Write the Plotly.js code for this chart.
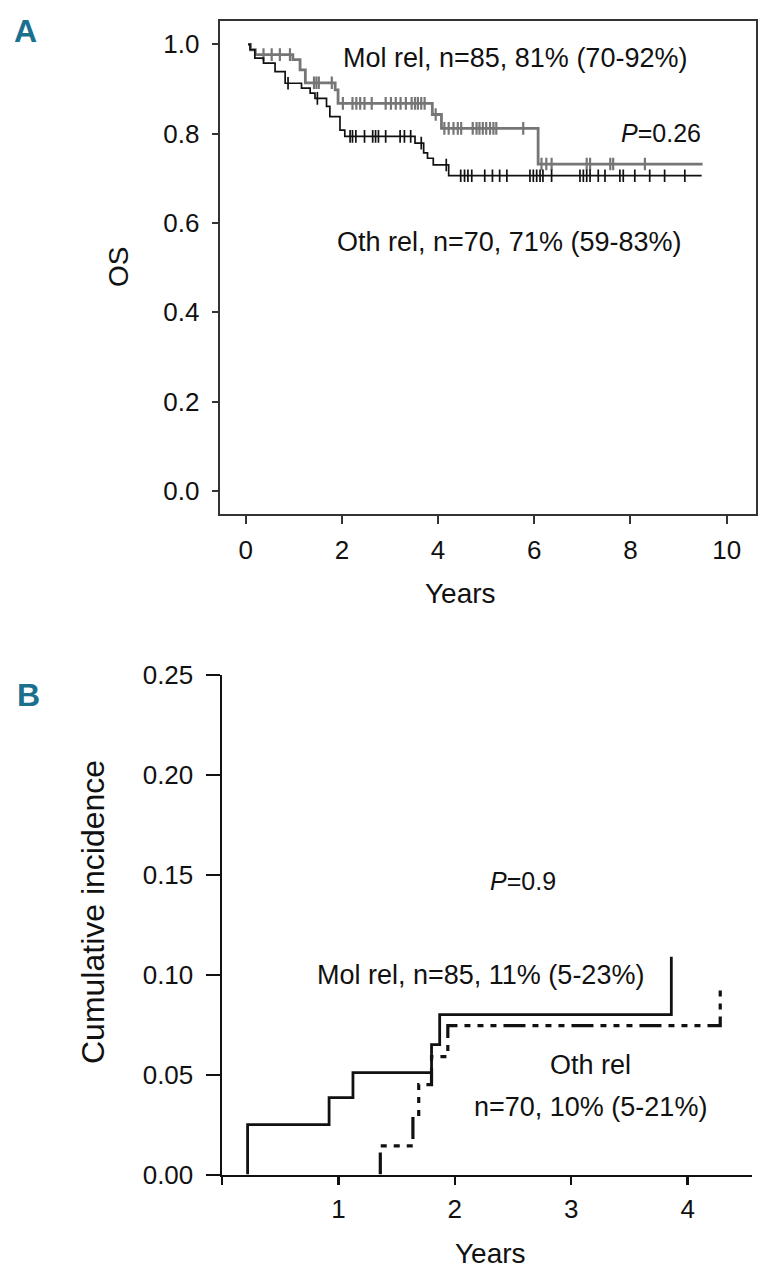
<!DOCTYPE html>
<html>
<head>
<meta charset="utf-8">
<script src="https://cdn.plot.ly/plotly-3.0.1.min.js"></script>
<style>
html,body{margin:0;padding:0;background:#fff;}
#chart{width:766px;height:1280px;}
</style>
</head>
<body>
<div id="chart"></div>
<script>
// ---------- Panel A: overall survival (Kaplan-Meier) ----------
const molA_times = [0.05, 0.10, 0.20, 0.98, 1.13, 1.24, 1.86, 1.92, 3.88, 4.07, 6.08];
const molA_surv  = [1.0, 0.988, 0.977, 0.966, 0.943, 0.914, 0.898, 0.868, 0.843, 0.812, 0.732];
const molA_end = 9.50;
const molA_censor = [0.37, 0.54, 0.71, 0.92, 1.42, 1.47, 1.52, 1.79, 2.02, 2.22, 2.30, 2.38, 2.47, 2.62,
  2.91, 3.02, 3.12, 3.22, 3.33, 3.45, 3.52, 3.58, 3.65, 3.72, 3.95, 4.13, 4.22, 4.32, 4.41, 4.48,
  4.72, 4.80, 4.86, 4.93, 5.00, 5.08, 5.15, 5.21, 5.77, 6.15, 6.25, 6.36, 7.09, 7.16, 7.58, 7.64, 8.30];

const othA_times = [0.05, 0.09, 0.19, 0.37, 0.61, 0.82, 1.16, 1.34, 1.44, 1.68, 1.75, 1.96, 2.06, 3.52, 3.70, 3.78, 3.90, 4.22];
const othA_surv  = [1.0, 0.988, 0.969, 0.958, 0.939, 0.913, 0.902, 0.891, 0.879, 0.861, 0.838, 0.808, 0.794, 0.779, 0.757, 0.745, 0.730, 0.706];
const othA_end = 9.48;
const othA_censor = [0.88, 1.49, 2.17, 2.22, 2.29, 2.47, 2.64, 2.70, 2.76, 2.91, 3.21, 3.30, 3.43, 3.65, 4.17,
  4.47, 4.55, 4.62, 4.70, 4.97, 5.13, 5.28, 5.43, 5.91, 5.98, 6.05, 6.12, 6.18, 6.36, 6.95, 7.02, 7.09,
  7.16, 7.33, 7.47, 7.78, 7.85, 8.09, 8.40, 8.71, 9.13];

const xTicksA = [0, 2, 4, 6, 8, 10];
const yTicksA = [0.0, 0.2, 0.4, 0.6, 0.8, 1.0];
const yTickTextA = ['0.0', '0.2', '0.4', '0.6', '0.8', '1.0'];

// ---------- Panel B: cumulative incidence ----------
const molB_times = [0.22, 0.92, 1.125, 1.80, 1.87, 3.86];
const molB_cif   = [0.025, 0.0385, 0.051, 0.065, 0.080, 0.109];
const othB_times = [1.36, 1.64, 1.69, 1.80, 1.94, 4.28];
const othB_cif   = [0.0143, 0.029, 0.045, 0.059, 0.0745, 0.094];

const xTicksB = [0, 1, 2, 3, 4];
const xTickTextB = ['', '1', '2', '3', '4'];
const yTicksB = [0, 0.05, 0.10, 0.15, 0.20, 0.25];
const yTickTextB = ['0.00', '0.05', '0.10', '0.15', '0.20', '0.25'];

// ---------- helpers ----------
function stepAt(times, vals, t) {
  let v = vals[0];
  for (let i = 0; i < times.length; i++) { if (times[i] <= t) v = vals[i]; }
  return v;
}
const W = 766, H = 1280;
const px = x => x / W;
const py = y => 1 - y / H;
const FONT = 'Liberation Sans, Arial, sans-serif';
const INK = '#111111';
const GRAY = '#767676';

const traces = [
  { x: molA_times.concat([molA_end]), y: molA_surv.concat([molA_surv[molA_surv.length-1]]),
    type: 'scatter', mode: 'lines', line: {shape: 'hv', color: GRAY, width: 2.8},
    xaxis: 'x', yaxis: 'y', showlegend: false, hoverinfo: 'skip' },
  { x: molA_censor, y: molA_censor.map(t => stepAt(molA_times, molA_surv, t)),
    type: 'scatter', mode: 'markers',
    marker: {symbol: 'line-ns', size: 9, line: {color: GRAY, width: 2.2}},
    xaxis: 'x', yaxis: 'y', showlegend: false, hoverinfo: 'skip' },
  { x: othA_times.concat([othA_end]), y: othA_surv.concat([othA_surv[othA_surv.length-1]]),
    type: 'scatter', mode: 'lines', line: {shape: 'hv', color: INK, width: 1.7},
    xaxis: 'x', yaxis: 'y', showlegend: false, hoverinfo: 'skip' },
  { x: othA_censor, y: othA_censor.map(t => stepAt(othA_times, othA_surv, t)),
    type: 'scatter', mode: 'markers',
    marker: {symbol: 'line-ns', size: 9, line: {color: INK, width: 1.7}},
    xaxis: 'x', yaxis: 'y', showlegend: false, hoverinfo: 'skip' },
  { x: [molB_times[0]].concat(molB_times), y: [0].concat(molB_cif),
    type: 'scatter', mode: 'lines', line: {shape: 'hv', color: INK, width: 2.8},
    xaxis: 'x2', yaxis: 'y2', showlegend: false, hoverinfo: 'skip' },
  { x: [othB_times[0]].concat(othB_times), y: [0].concat(othB_cif),
    type: 'scatter', mode: 'lines',
    line: {shape: 'hv', color: INK, width: 3.2, dash: '22px,7px,6px,7px,6px,7px,6px,7px'},
    xaxis: 'x2', yaxis: 'y2', showlegend: false, hoverinfo: 'skip' }
];

const tickFont = {family: FONT, size: 26, color: INK};
const layout = {
  width: W, height: H,
  margin: {l: 0, r: 0, t: 0, b: 0},
  paper_bgcolor: '#fff', plot_bgcolor: '#fff',
  showlegend: false,
  xaxis: {
    domain: [px(219.6), px(756)], range: [-0.543, 10.61], anchor: 'y',
    showgrid: false, zeroline: false, showline: true, mirror: true,
    linecolor: '#333', linewidth: 2,
    ticks: 'outside', ticklen: 8, tickwidth: 2, tickcolor: '#333',
    tickvals: xTicksA, ticktext: xTicksA.map(String), tickfont: tickFont, ticklabelstandoff: 4
  },
  yaxis: {
    domain: [py(514), py(20.7)], range: [-0.0515, 1.053], anchor: 'x',
    showgrid: false, zeroline: false, showline: true, mirror: true,
    linecolor: '#333', linewidth: 2,
    ticks: 'outside', ticklen: 6, tickwidth: 2, tickcolor: '#333',
    tickvals: yTicksA, ticktext: yTickTextA, tickfont: tickFont, ticklabelstandoff: 7
  },
  xaxis2: {
    domain: [px(222), px(752)], range: [0, 4.553], anchor: 'y2',
    showgrid: false, zeroline: false, showline: true, mirror: false,
    linecolor: INK, linewidth: 2.5,
    ticks: 'outside', ticklen: 8, tickwidth: 2.5, tickcolor: INK,
    tickvals: xTicksB, ticktext: xTickTextB, tickfont: tickFont, ticklabelstandoff: 2
  },
  yaxis2: {
    domain: [py(1174.5), py(675)], range: [0, 0.25], anchor: 'x2',
    showgrid: false, zeroline: false, showline: true, mirror: false,
    linecolor: INK, linewidth: 2.5,
    ticks: 'outside', ticklen: 14, tickwidth: 2, tickcolor: INK,
    tickvals: yTicksB, ticktext: yTickTextB, tickfont: tickFont, ticklabelstandoff: 7
  },
  annotations: [
    {text: '<b>A</b>', x: px(12), y: py(31), xref: 'paper', yref: 'paper', xanchor: 'left', yanchor: 'middle',
     showarrow: false, font: {family: 'Liberation Sans Narrow, Liberation Sans, Arial', size: 32, color: '#1b6f8f'}},
    {text: '<b>B</b>', x: px(15), y: py(695), xref: 'paper', yref: 'paper', xanchor: 'left', yanchor: 'middle',
     showarrow: false, font: {family: 'Liberation Sans Narrow, Liberation Sans, Arial', size: 32, color: '#1b6f8f'}},
    {text: 'OS', x: px(118), y: py(267), xref: 'paper', yref: 'paper', xanchor: 'center', yanchor: 'middle',
     textangle: -90, showarrow: false, font: {family: FONT, size: 28, color: INK}},
    {text: 'Years', x: px(461), y: py(593), xref: 'paper', yref: 'paper', xanchor: 'center', yanchor: 'middle',
     showarrow: false, font: {family: FONT, size: 28, color: INK}},
    {text: 'Mol rel, n=85, 81% (70-92%)', x: px(341), y: py(58), xref: 'paper', yref: 'paper',
     xanchor: 'left', yanchor: 'middle', showarrow: false, font: {family: FONT, size: 27, color: INK}},
    {text: '<i>P</i>=0.26', x: px(703), y: py(133), xref: 'paper', yref: 'paper',
     xanchor: 'right', yanchor: 'middle', showarrow: false, font: {family: FONT, size: 25, color: INK}},
    {text: 'Oth rel, n=70, 71% (59-83%)', x: px(335), y: py(242), xref: 'paper', yref: 'paper',
     xanchor: 'left', yanchor: 'middle', showarrow: false, font: {family: FONT, size: 27, color: INK}},
    {text: 'Cumulative incidence', x: px(93), y: py(912), xref: 'paper', yref: 'paper', xanchor: 'center', yanchor: 'middle',
     textangle: -90, showarrow: false, font: {family: FONT, size: 32, color: INK}},
    {text: 'Years', x: px(490), y: py(1253), xref: 'paper', yref: 'paper', xanchor: 'center', yanchor: 'middle',
     showarrow: false, font: {family: FONT, size: 28, color: INK}},
    {text: '<i>P</i>=0.9', x: px(488), y: py(881), xref: 'paper', yref: 'paper',
     xanchor: 'left', yanchor: 'middle', showarrow: false, font: {family: FONT, size: 25, color: INK}},
    {text: 'Mol rel, n=85, 11% (5-23%)', x: px(315), y: py(975), xref: 'paper', yref: 'paper',
     xanchor: 'left', yanchor: 'middle', showarrow: false, font: {family: FONT, size: 27, color: INK}},
    {text: 'Oth rel', x: px(590), y: py(1065), xref: 'paper', yref: 'paper',
     xanchor: 'center', yanchor: 'middle', showarrow: false, font: {family: FONT, size: 27, color: INK}},
    {text: 'n=70, 10% (5-21%)', x: px(590), y: py(1107), xref: 'paper', yref: 'paper',
     xanchor: 'center', yanchor: 'middle', showarrow: false, font: {family: FONT, size: 27, color: INK}}
  ]
};

Plotly.newPlot('chart', traces, layout, {staticPlot: true, displayModeBar: false});
</script>
</body>
</html>
